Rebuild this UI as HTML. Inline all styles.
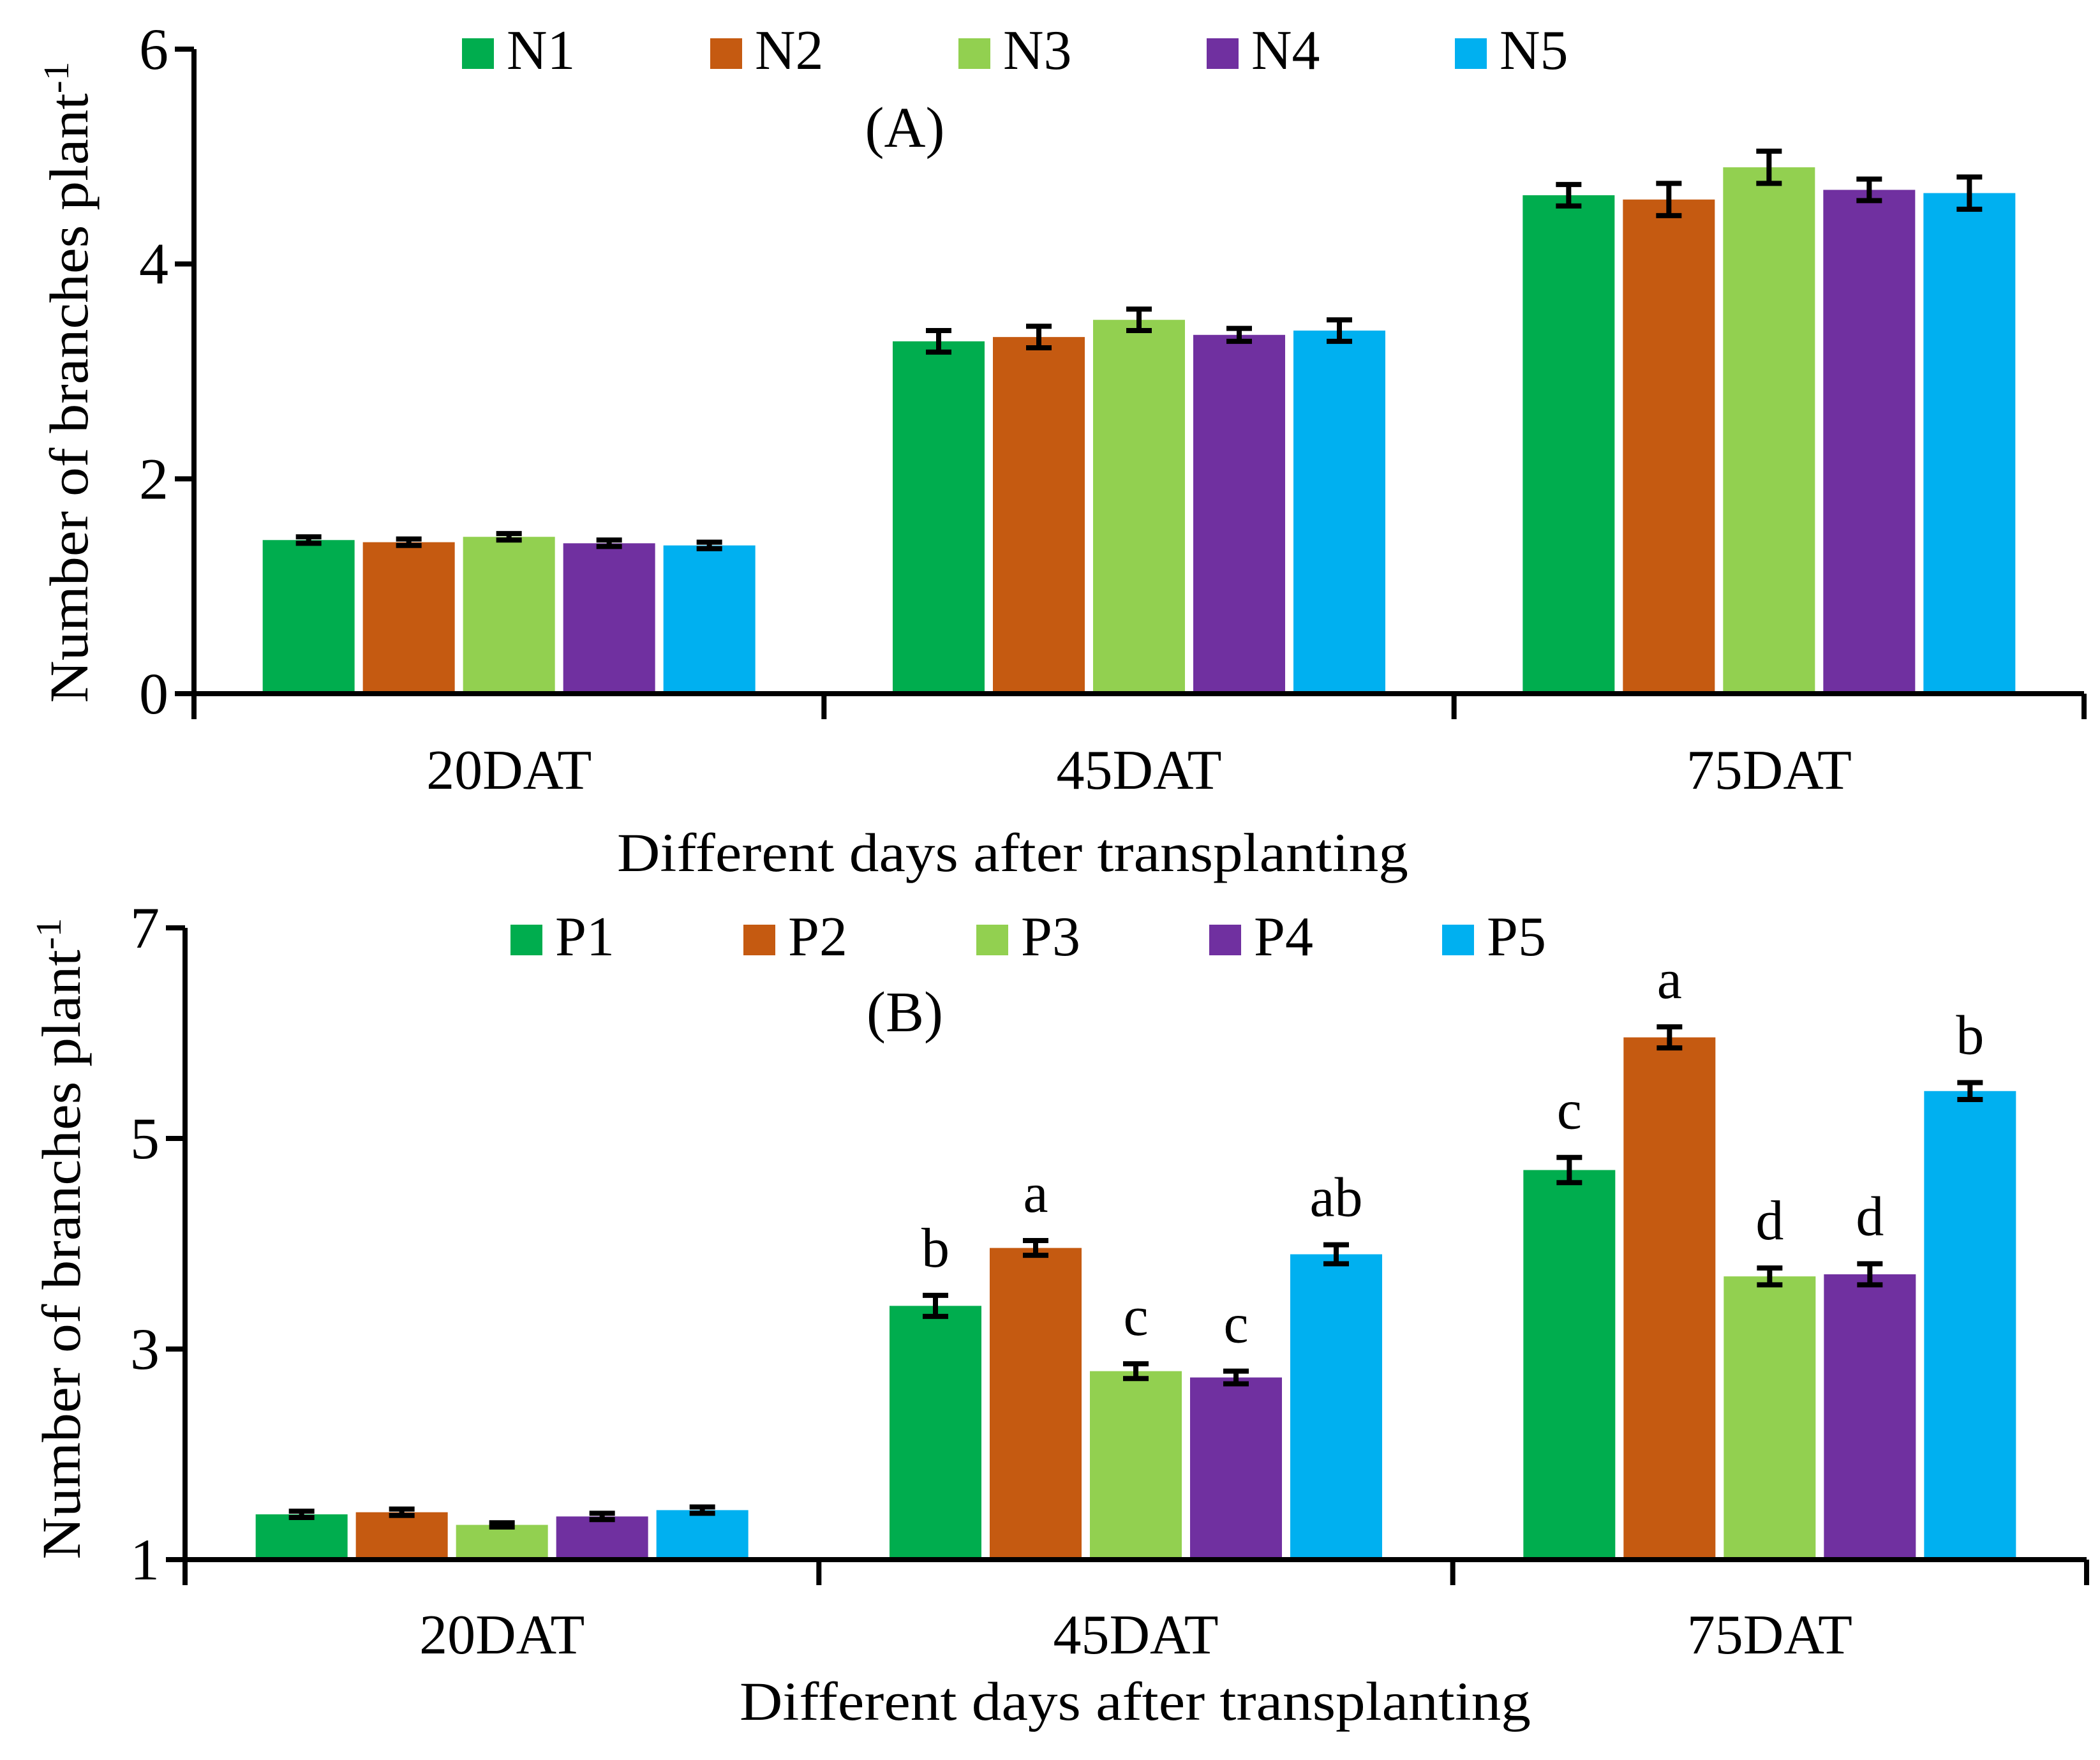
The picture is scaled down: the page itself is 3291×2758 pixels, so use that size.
<!DOCTYPE html>
<html><head><meta charset="utf-8"><style>
html,body{margin:0;padding:0;background:#fff;}
svg{display:block;}
text{font-family:"Liberation Serif",serif;fill:#000;}
</style></head><body>
<svg id="chart" width="3291" height="2758" viewBox="0 0 3291 2758" xmlns="http://www.w3.org/2000/svg"></svg>
<script>
const categories = ["20DAT","45DAT","75DAT"];
const colors = ["#00AD4E","#C55A11","#92D050","#7030A0","#00B0F0"];
const seriesA = ["N1","N2","N3","N4","N5"];
const valuesA = [[1.43,3.28,4.64],[1.41,3.32,4.60],[1.46,3.48,4.90],[1.40,3.34,4.69],[1.38,3.38,4.66]];
const errorsA = [[0.03,0.1,0.1],[0.03,0.1,0.15],[0.03,0.1,0.15],[0.03,0.06,0.1],[0.03,0.1,0.15]];
const ticksA = [0,2,4,6];
const seriesB = ["P1","P2","P3","P4","P5"];
const valuesB = [[1.43,3.41,4.70],[1.45,3.96,5.96],[1.33,2.79,3.69],[1.41,2.73,3.71],[1.47,3.90,5.45]];
const errorsB = [[0.03,0.1,0.12],[0.03,0.07,0.1],[0.02,0.07,0.08],[0.03,0.06,0.1],[0.03,0.09,0.08]];
const lettersB = [["","b","c"],["","a","a"],["","c","d"],["","c","d"],["","ab","b"]];
const ticksB = [1,3,5,7];

const svg = document.getElementById('chart');
const NS = "http://www.w3.org/2000/svg";
function mk(tag, attrs, parent){
  const e = document.createElementNS(NS, tag);
  for (const k in attrs) e.setAttribute(k, attrs[k]);
  (parent||svg).appendChild(e);
  return e;
}

function drawPanel(cfg){
  const g = mk('g', {});
  
  
  const yScale = v => cfg.yBot - (v - cfg.yMin) / (cfg.yMax - cfg.yMin) * (cfg.yBot - cfg.yTop);
  const catW = (cfg.xEnd - cfg.x0) / categories.length;
  const barW = 144, step = 157;
  const groupW = step * 4 + barW;
  for (let s = 0; s < cfg.series.length; s++){
    for (let c = 0; c < categories.length; c++){
      const v = cfg.values[s][c];
      const x = cfg.x0 + c * catW + (catW - groupW) / 2 + s * step;
      const y = yScale(v);
      const r = mk('rect', {x:x, y:y, width:barW, height:cfg.yBot - y, fill:colors[s]}, g);
      
      
      const e = cfg.errors[s][c];
      const cx = x + barW / 2;
      const yt = yScale(v + e), yb = yScale(v - e);
      const eb = mk('path', {d:`M${cx},${yt}V${yb}M${cx-20},${yt}H${cx+20}M${cx-20},${yb}H${cx+20}`, stroke:'#000', 'stroke-width':8, fill:'none'}, g);
      
      
      if (cfg.letters && cfg.letters[s][c]){
        const t = mk('text', {x:cx, y:yt - 45, 'font-size':88, 'text-anchor':'middle'}, g);
        t.textContent = cfg.letters[s][c];
        
        
      }
    }
  }
  const ax = mk('path', {d:`M${cfg.x0},${cfg.yTop}V${cfg.yBot}M${cfg.x0 - 30},${cfg.yBot}H${cfg.xEnd}`, stroke:'#000', 'stroke-width':8, fill:'none'}, g);
  
  
  for (const tv of cfg.ticks){
    const y = yScale(tv);
    const tk = mk('line', {x1:cfg.x0 - 30, x2:cfg.x0, y1:y, y2:y, stroke:'#000', 'stroke-width':8}, g);
    
    
    const tl = mk('text', {x:cfg.x0 - 40, y:y + 31, 'font-size':92, 'text-anchor':'end'}, g);
    tl.textContent = tv;
    
    
  }
  for (let c = 0; c <= categories.length; c++){
    const x = cfg.x0 + c * catW;
    const tk = mk('line', {x1:x, x2:x, y1:cfg.yBot, y2:cfg.yBot + 40, stroke:'#000', 'stroke-width':8}, g);
    
    
  }
  categories.forEach((cat, c) => {
    const t = mk('text', {x:cfg.x0 + (c + 0.5) * catW, y:cfg.catY, 'font-size':88, 'text-anchor':'middle'}, g);
    t.textContent = cat;
    
    
  });
  const xt = mk('text', {x:cfg.xTitleX, y:cfg.xTitleY, 'font-size':86, 'text-anchor':'middle', textLength:1240, lengthAdjust:'spacingAndGlyphs'}, g);
  xt.textContent = 'Different days after transplanting';
  
  
  const yt = mk('text', {x:0, y:0, 'font-size':86, 'text-anchor':'middle', transform:`translate(${cfg.yTitleX},${cfg.yTitleY}) rotate(-90)`}, g);
  
  
  yt.setAttribute('textLength', 1005);
  yt.setAttribute('lengthAdjust', 'spacingAndGlyphs');
  yt.appendChild(document.createTextNode('Number of branches plant'));
  const sup = mk('tspan', {dy:-30, 'font-size':56}, yt);
  sup.textContent = '-1';
  const pl = mk('text', {x:cfg.panelX, y:cfg.panelY, 'font-size':90, 'text-anchor':'middle'}, g);
  pl.textContent = cfg.panelLabel;
  
  
  cfg.series.forEach((sn, s) => {
    const lx = cfg.legX + s * cfg.legStep;
    const lg = mk('g', {}, g);
    
    
    mk('rect', {x:lx, y:cfg.legY, width:50, height:48, fill:colors[s]}, lg);
    const t = mk('text', {x:lx + 70, y:cfg.legY + 48, 'font-size':88}, lg);
    t.textContent = sn;
  });
}

drawPanel({name:'panel-a', x0:304, xEnd:3266, yTop:77, yBot:1087, yMin:0, yMax:6,
  series:seriesA, values:valuesA, errors:errorsA, ticks:ticksA, letters:null,
  catY:1236, xTitleX:1587, xTitleY:1365, yTitleX:137, yTitleY:599,
  panelLabel:'(A)', panelX:1418, panelY:230, legX:724, legY:60, legStep:389});

drawPanel({name:'panel-b', x0:290, xEnd:3270, yTop:1454, yBot:2444, yMin:1, yMax:7,
  series:seriesB, values:valuesB, errors:errorsB, ticks:ticksB, letters:lettersB,
  catY:2591, xTitleX:1779, xTitleY:2695, yTitleX:125, yTitleY:1941,
  panelLabel:'(B)', panelX:1418, panelY:1616, legX:800, legY:1449, legStep:365});
</script>
</body></html>
